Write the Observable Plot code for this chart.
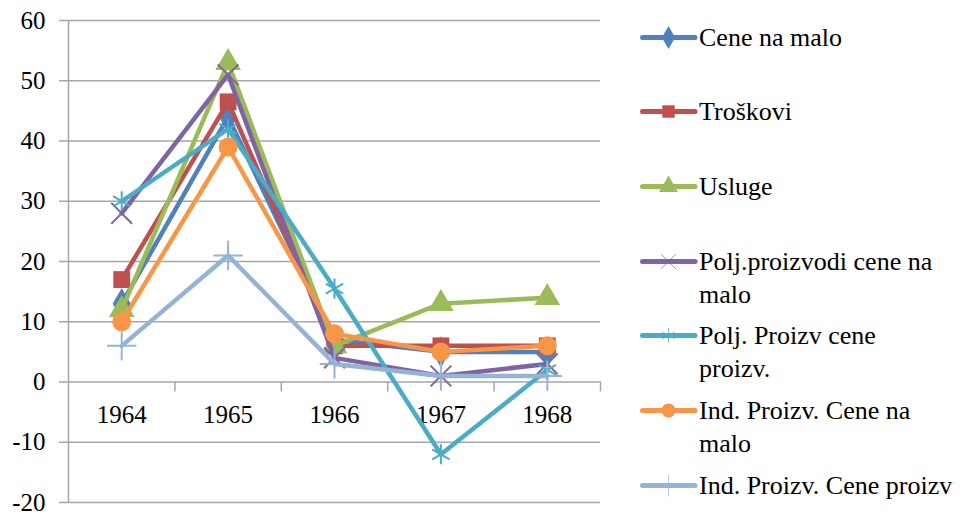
<!DOCTYPE html>
<html><head><meta charset="utf-8">
<script src="https://cdn.jsdelivr.net/npm/d3@7"></script>
<script src="https://cdn.jsdelivr.net/npm/@observablehq/plot@0.6"></script>
<style>
body{margin:0;background:#fff;}
#wrap{position:relative;width:964px;height:512px;overflow:hidden;}
.item{position:absolute;left:640px;display:flex;align-items:flex-start;}
.item svg{flex:none;}
.item span{font-family:'Liberation Serif','Times New Roman',serif;font-size:26px;line-height:33px;width:300px;color:#000;white-space:pre-line;}
</style></head><body><div id="wrap"></div>
<script>
// ---- data ----
const years = [1964, 1965, 1966, 1967, 1968];
const seriesNames = [
  "Cene na malo",
  "Troškovi",
  "Usluge",
  "Polj.proizvodi cene na malo",
  "Polj. Proizv cene proizv.",
  "Ind. Proizv. Cene na malo",
  "Ind. Proizv. Cene proizv"
];
// legend line breaks, as in the reference
const legendLines = [
  ["Cene na malo"],
  ["Troškovi"],
  ["Usluge"],
  ["Polj.proizvodi cene na", "malo"],
  ["Polj. Proizv cene", "proizv."],
  ["Ind. Proizv. Cene na", "malo"],
  ["Ind. Proizv. Cene proizv"]
];
const ceneNaMalo      = [13, 44, 7, 5, 5];
const troskovi        = [17, 46.5, 6, 6, 6];
const usluge          = [12, 53, 6, 13, 14];
const poljCeneNaMalo  = [28, 51, 4, 1, 3];
const poljCeneProizv  = [30, 42, 15.5, -12, 2];
const indCeneNaMalo   = [10, 39, 8, 5, 6];
const indCeneProizv   = [6, 21, 3, 1, 1];
const yTicks = [-20, -10, 0, 10, 20, 30, 40, 50, 60];

const seriesValues = [ceneNaMalo, troskovi, usluge, poljCeneNaMalo, poljCeneProizv, indCeneNaMalo, indCeneProizv];
const colors = ["#4F81BD", "#C0504D", "#9BBB59", "#8064A2", "#4BACC6", "#F79646", "#95B3D7"];
const symbols = ["diamond", "square", "triangle", "times", "asterisk", "circle", "plus"];
const filled = [true, true, true, false, false, true, false];

const rows = seriesNames.map((name, s) => years.map((year, i) => ({series: name, year, value: seriesValues[s][i]})));
const boundaries = years.map(y => y + 0.5);
const leftEdge = [years[0] - 0.5];

const FONT = "'Liberation Serif', 'Times New Roman', serif";
const GRID = "#a6a6a6";

const seriesMarks = rows.flatMap((data, s) => [
  Plot.line(data, {x: "year", y: "value", stroke: colors[s], strokeWidth: 4.5, strokeLinejoin: "round", strokeLinecap: "round"}),
  Plot.dot(data, filled[s]
    ? {x: "year", y: "value", symbol: () => symbols[s], r: 9.5, fill: colors[s], stroke: "none"}
    : {x: "year", y: "value", symbol: () => symbols[s], r: 9.5, fill: "none", stroke: colors[s], strokeWidth: 2})
]);

const plot = Plot.plot({
  width: 964,
  height: 512,
  marginLeft: 68,
  marginRight: 364,
  marginTop: 20,
  marginBottom: 10,
  style: {fontFamily: FONT, fontSize: "25px", color: "#000", background: "#fff"},
  x: {type: "linear", domain: [years[0] - 0.5, years[years.length - 1] + 0.5], axis: null},
  y: {domain: [yTicks[0], yTicks[yTicks.length - 1]], ticks: yTicks, tickSize: 0, tickPadding: 23, label: null, tickFormat: d => String(d)},
  symbol: {type: "identity"},
  marks: [
    Plot.ruleY(yTicks, {stroke: GRID, strokeWidth: 1.5, insetLeft: -9}),
    Plot.ruleX(leftEdge, {stroke: GRID, strokeWidth: 1.5}),
    Plot.ruleX(boundaries, {x: d => d, y1: 0, y2: 0, insetBottom: -10, stroke: GRID, strokeWidth: 1.5}),
    Plot.text(years, {x: d => d, y: 0, dy: 33, text: d => String(d), fontSize: 25, fill: "#000"}),
    ...seriesMarks
  ]
});
const wrap = document.getElementById("wrap");
wrap.appendChild(plot);

// ---- legend ----
legendLines.forEach((lines, s) => {
  const item = document.createElement("div");
  item.className = "item";
  item.style.top = (37 + s * 74.7 - 16.5) + "px";
  const svg = d3.create("svg").attr("width", 59).attr("height", 33);
  svg.append("line").attr("x1", 2.5).attr("x2", 55).attr("y1", 16.5).attr("y2", 16.5)
    .attr("stroke", colors[s]).attr("stroke-width", 5).attr("stroke-linecap", "round");
  const symMap = {diamond: d3.symbolDiamond, square: d3.symbolSquare, triangle: d3.symbolTriangle, times: d3.symbolTimes, asterisk: d3.symbolAsterisk, circle: d3.symbolCircle, plus: d3.symbolPlus};
  const p = svg.append("path").attr("transform", "translate(28.5,16.5)")
    .attr("d", d3.symbol(symMap[symbols[s]], Math.PI * 7 * 7)());
  if (filled[s]) p.attr("fill", colors[s]);
  else p.attr("fill", "none").attr("stroke", colors[s]).attr("stroke-width", 1).attr("opacity", 0.7);
  item.appendChild(svg.node());
  const span = document.createElement("span");
  span.textContent = lines.join("\n");
  item.appendChild(span);
  wrap.appendChild(item);
});
</script>
</body></html>
